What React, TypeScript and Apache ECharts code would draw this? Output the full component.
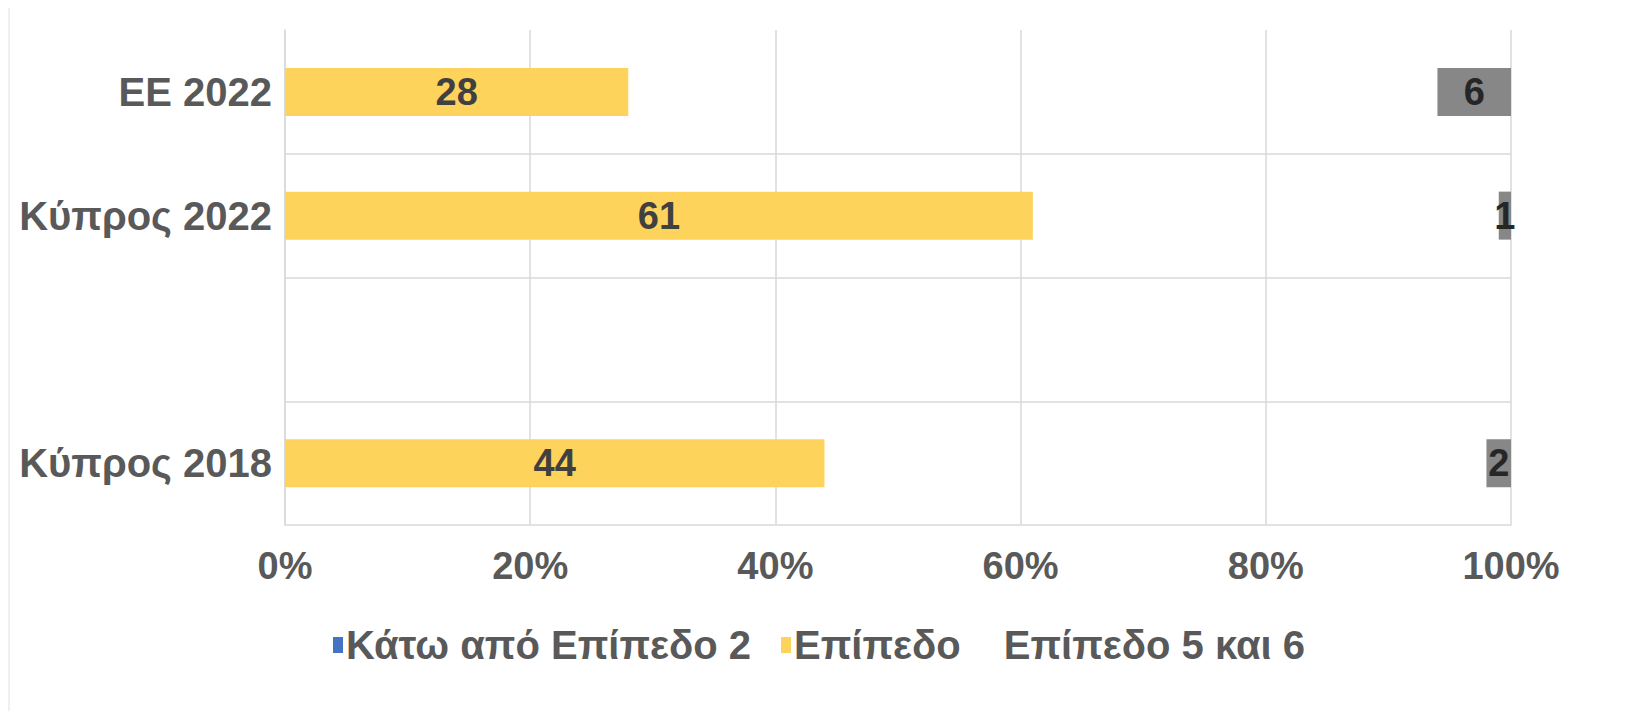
import React, { useEffect, useRef } from "react";
import * as echarts from "echarts";

const categories = ["ΕΕ 2022", "Κύπρος 2022", "", "Κύπρος 2018"];
const belowLevel2 = [0, 0, null, 0];
const level = [28, 61, null, 44];
const gap = [66, 38, null, 54];
const level56 = [6, 1, null, 2];
const xTicks = [0, 20, 40, 60, 80, 100];

const FONT = "'Liberation Sans', Arial, sans-serif";

export default function App() {
  const ref = useRef<HTMLDivElement>(null);
  useEffect(() => {
    if (!ref.current) return;
    const chart = echarts.init(ref.current, undefined, { renderer: "svg" });
    chart.setOption({
      animation: false,
      backgroundColor: "#ffffff",
      textStyle: { fontFamily: FONT },
      graphic: [
        {
          type: "rect",
          shape: { x: 1, y: -2, width: 1640, height: 720 },
          style: { fill: "none", stroke: "#ececec", lineWidth: 1.5 },
          silent: true,
        },
      ],
      grid: { left: 277, right: 114, top: 22, bottom: 186, containLabel: false },
      legend: {
        left: 320,
        top: 612,
        itemGap: 30,
        itemWidth: 10,
        itemHeight: 16,
        textStyle: { fontFamily: FONT, fontSize: 40, color: "#595959", fontWeight: "bold", padding: [0, 0, 0, -2] },
        data: [
          { name: "Κάτω από Επίπεδο 2", icon: "rect" },
          { name: "Επίπεδο", icon: "rect" },
          { name: "Επίπεδο 5 και 6", icon: "rect", itemStyle: { color: "rgba(0,0,0,0)" } },
        ],
      },
      xAxis: {
        type: "value",
        min: 0,
        max: 100,
        interval: 20,
        axisLine: { show: true, lineStyle: { color: "#d9d9d9", width: 1.5 } },
        axisTick: { show: false },
        splitLine: { show: true, lineStyle: { color: "#d9d9d9", width: 1.5 } },
        axisLabel: {
          formatter: (v: number) => (xTicks.includes(v) ? v + "%" : ""),
          fontFamily: FONT,
          fontSize: 38,
          fontWeight: "bold",
          color: "#595959",
          margin: 22,
        },
      },
      yAxis: {
        type: "category",
        inverse: true,
        data: categories,
        axisLine: { show: true, lineStyle: { color: "#d9d9d9", width: 1.5 } },
        axisTick: { show: false },
        splitLine: { show: true, showMinLine: false, showMaxLine: false, lineStyle: { color: "#d9d9d9", width: 1.5 } },
        axisLabel: {
          fontFamily: FONT,
          fontSize: 40,
          fontWeight: "bold",
          color: "#595959",
          margin: 13,
        },
      },
      series: [
        {
          name: "Κάτω από Επίπεδο 2",
          type: "bar",
          stack: "t",
          barWidth: 48,
          data: belowLevel2,
          itemStyle: { color: "#4472C4" },
        },
        {
          name: "Επίπεδο",
          type: "bar",
          stack: "t",
          barWidth: 48,
          data: level,
          itemStyle: { color: "#FDD35C" },
          label: {
            show: true,
            position: "inside",
            fontFamily: FONT,
            fontSize: 38,
            fontWeight: "bold",
            color: "#404040",
          },
        },
        {
          name: "gap",
          type: "bar",
          stack: "t",
          barWidth: 48,
          data: gap,
          silent: true,
          itemStyle: { color: "rgba(0,0,0,0)" },
        },
        {
          name: "Επίπεδο 5 και 6",
          type: "bar",
          stack: "t",
          barWidth: 48,
          data: level56,
          itemStyle: { color: "#878787" },
          label: {
            show: true,
            position: "inside",
            fontFamily: FONT,
            fontSize: 38,
            fontWeight: "bold",
            color: "#262626",
          },
        },
      ],
    });
    return () => chart.dispose();
  }, []);
  return <div ref={ref} style={{ width: 1617, height: 703 }} />;
}
